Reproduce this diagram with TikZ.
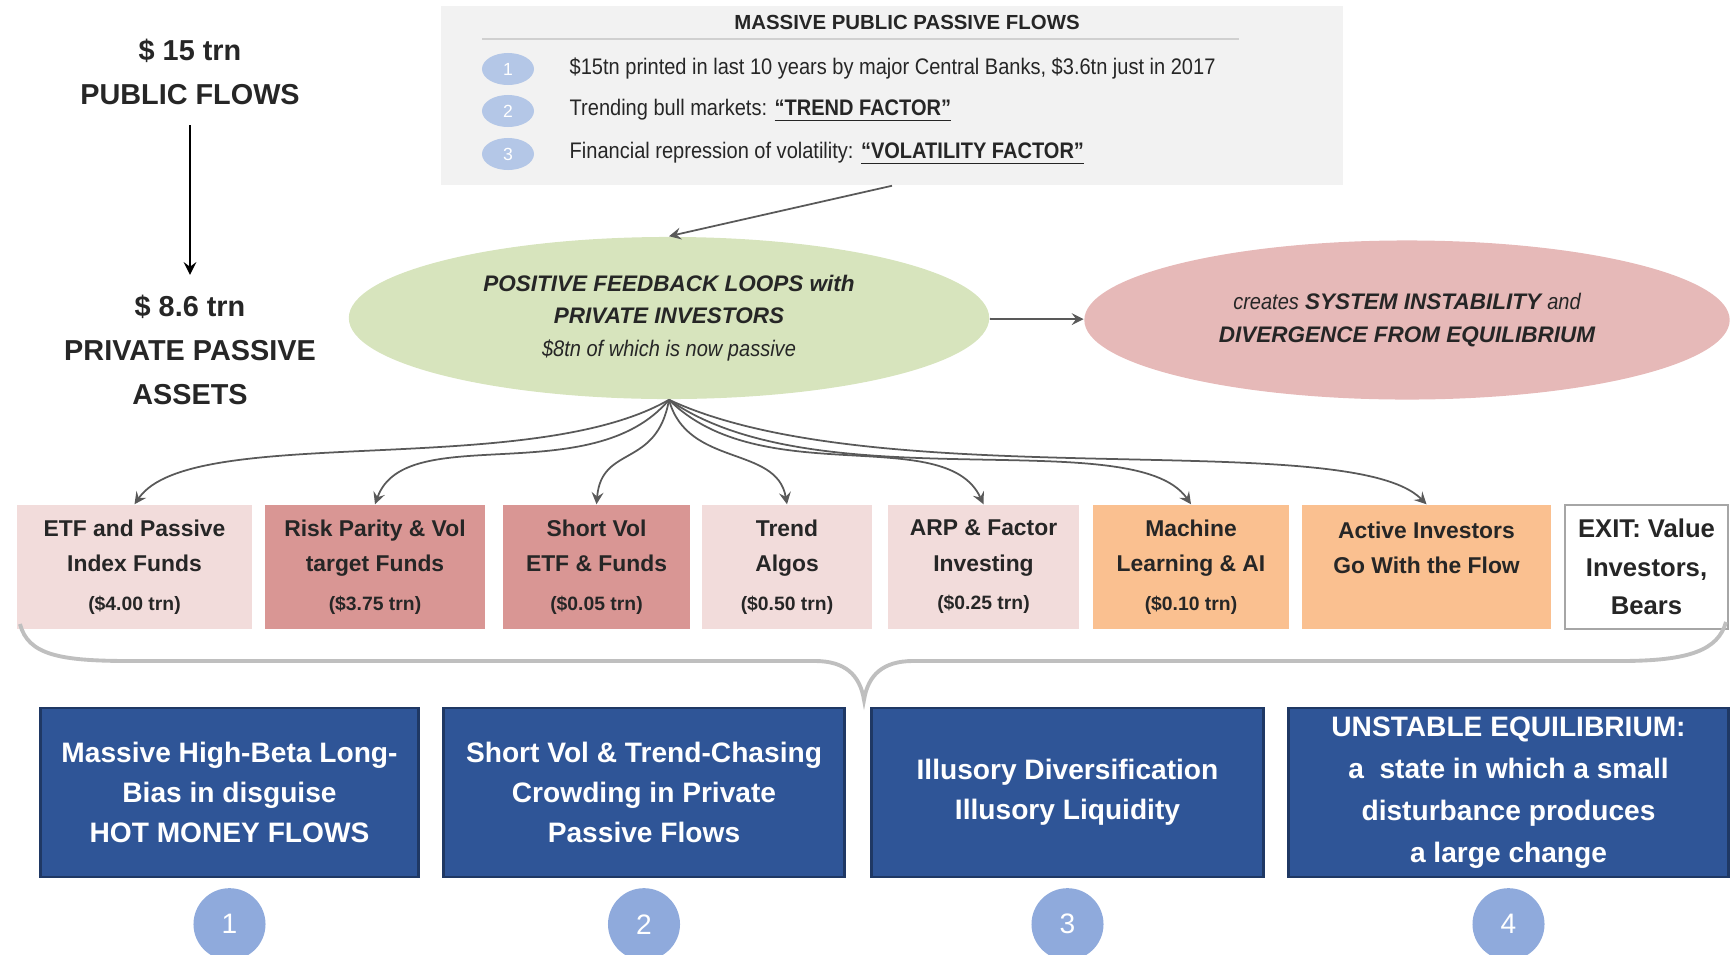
\documentclass[tikz,border=0pt]{standalone}
\usepackage{fontspec}
\setmainfont{Liberation Sans}
\newfontfamily\narrowfont{Liberation Sans}[FakeStretch=0.89]
\usepackage{tikz}
\usetikzlibrary{arrows,positioning,shapes.geometric}

\definecolor{textdark}{HTML}{262626}
\definecolor{boxgrey}{HTML}{F2F2F2}
\definecolor{rulegrey}{HTML}{D0D0D0}
\definecolor{dotblue}{HTML}{B4C7E7}
\definecolor{loopgreen}{HTML}{D7E4BD}
\definecolor{instabpink}{HTML}{E6B9B8}
\definecolor{pinklight}{HTML}{F2DCDB}
\definecolor{pinkdark}{HTML}{D99694}
\definecolor{orangefund}{HTML}{FAC090}
\definecolor{exitgrey}{HTML}{A6A6A6}
\definecolor{resblue}{HTML}{2F5597}
\definecolor{resborder}{HTML}{1F3864}
\definecolor{circblue}{HTML}{8FAADC}
\definecolor{arrowgrey}{HTML}{595959}
\definecolor{bracegrey}{HTML}{BFBFBF}

\newcommand{\amount}[1]{{\fontsize{5.5}{7}\selectfont(\$#1 trn)}}

\begin{document}
\begin{tikzpicture}[x=0.01cm, y=-0.01cm,
  greybox/.style={rectangle, fill=boxgrey, inner sep=0pt},
  numdot/.style={ellipse, fill=dotblue, minimum width=0.52cm, minimum height=0.32cm, inner sep=0pt, text=white, font=\fontsize{5}{6}\selectfont},
  flowline/.style={anchor=west, inner sep=0pt, text=textdark, font=\narrowfont\fontsize{6.4}{7.5}\selectfont},
  headline/.style={inner sep=0.2cm, align=center, text=textdark, font=\fontsize{8.2}{12.4}\bfseries\selectfont},
  loopoval/.style={ellipse, inner sep=0pt, align=center, text=textdark, font=\fontsize{6.4}{9.3}\bfseries\itshape\selectfont},
  fundbox/.style={rectangle, minimum height=1.24cm, inner sep=0pt, align=center, text=textdark, font=\fontsize{6.5}{10}\bfseries\selectfont},
  resultbox/.style={rectangle, minimum height=1.69cm, inner sep=0pt, align=center, fill=resblue, draw=resborder, line width=0.8pt, text=white, font=\fontsize{8}{11.4}\bfseries\selectfont},
  numcirc/.style={circle, minimum size=0.72cm, inner sep=0pt, fill=circblue, text=white, font=\fontsize{8}{9}\selectfont},
  fanarrow/.style={->, >=stealth, draw=arrowgrey, line width=0.5pt}]
\useasboundingbox (0,0) rectangle (1730,954);

% left column
\node[headline] (public) at (190,72) {\$ 15 trn\\PUBLIC FLOWS};
\node[headline] (private) at (190,350) {\$ 8.6 trn\\PRIVATE PASSIVE\\ASSETS};
\draw[->,>=stealth,line width=0.6pt] (public) -- (private);

% public flows box
\node[greybox, minimum width=9.02cm, minimum height=1.79cm] (flows) at (892,95.5) {};
\node[inner sep=0pt, text=textdark, font=\fontsize{5.8}{7}\bfseries\selectfont] (flowstitle) at (907,22) {MASSIVE PUBLIC PASSIVE FLOWS};
\draw[rulegrey, line width=0.4pt] (482,39) -- (1239,39);
\foreach \i/\y in {1/69, 2/111, 3/154}
  \node[numdot] (dot\i) at (508,\y) {\i};
\node[flowline] (line1) at (569,69) {\$15tn printed in last 10 years by major Central Banks, \$3.6tn just in 2017};
\node[flowline] (line2) at (569,111) {Trending bull markets: {\bfseries\underline{“TREND FACTOR”}}};
\node[flowline] (line3) at (569,154) {Financial repression of volatility: {\bfseries\underline{“VOLATILITY FACTOR”}}};

% feedback loops
\node[loopoval, fill=loopgreen, minimum width=6.4cm, minimum height=1.62cm] (loops) at (669,318)
{POSITIVE FEEDBACK LOOPS with\\PRIVATE INVESTORS\\{\mdseries\narrowfont \$8tn of which is now passive}};
\node[loopoval, fill=instabpink, minimum width=6.45cm, minimum height=1.59cm] (instab) at (1407,320)
{{\mdseries\narrowfont creates} SYSTEM INSTABILITY {\mdseries\narrowfont and}\\DIVERGENCE FROM EQUILIBRIUM};
\draw[fanarrow] (flows.south) -- (loops.north);
\draw[fanarrow] (loops) -- (instab);

% fund boxes
\node[fundbox, fill=pinklight, minimum width=2.35cm] (f1) at (134.5,567) {ETF and Passive\\Index Funds\\[1pt]\amount{4.00}};
\node[fundbox, fill=pinkdark, minimum width=2.20cm] (f2) at (375,567) {Risk Parity \& Vol\\target Funds\\[1pt]\amount{3.75}};
\node[fundbox, fill=pinkdark, minimum width=1.87cm] (f3) at (596.5,567) {Short Vol\\ETF \& Funds\\[1pt]\amount{0.05}};
\node[fundbox, fill=pinklight, minimum width=1.70cm] (f4) at (787,567) {Trend\\Algos\\[1pt]\amount{0.50}};
\node[fundbox, fill=pinklight, minimum width=1.91cm] (f5) at (983.5,567) {ARP \& Factor\\Investing\\[1pt]\amount{0.25}};
\node[fundbox, fill=orangefund, minimum width=1.96cm] (f6) at (1191,567) {Machine\\Learning \& AI\\[1pt]\amount{0.10}};
\node[fundbox, fill=orangefund, minimum width=2.49cm] (f7) at (1426.5,567) {Active Investors\\Go With the Flow\\[1pt]\mbox{}};
\node[fundbox, fill=white, draw=exitgrey, line width=0.8pt, minimum width=1.63cm, font=\fontsize{7.3}{11}\bfseries\selectfont] (f8) at (1646.5,567) {EXIT: Value\\Investors,\\Bears};

% fan of curved arrows
\foreach \f/\a/\d/\b/\e in {f1/-150/1.6/55/1.0, f2/-130/1.2/70/0.9, f3/-100/0.7/85/0.6,
    f4/-75/0.7/100/0.6, f5/-45/1.3/115/0.9, f6/-35/1.8/125/1.0, f7/-25/2.3/135/1.1}
  \draw[fanarrow] (loops.south) .. controls +(\a:\d cm) and +(\b:\e cm) .. (\f.north);

% brace under the funds
\draw[bracegrey, line width=1.1pt] (20,624) .. controls (28,655) and (60,661) .. (130,661)
  -- (815,661) .. controls (845,661) and (860,675) .. (864,700)
  .. controls (868,675) and (883,661) .. (913,661) -- (1620,661)
  .. controls (1690,661) and (1718,650) .. (1726,622);

% outcomes
\node[resultbox, minimum width=3.77cm] (r1) at (229.5,792.5) {Massive High-Beta Long-\\Bias in disguise\\HOT MONEY FLOWS};
\node[resultbox, minimum width=4.00cm] (r2) at (644,792.5) {Short Vol \& Trend-Chasing\\Crowding in Private\\Passive Flows};
\node[resultbox, minimum width=3.91cm] (r3) at (1067.5,792.5) {Illusory Diversification\\Illusory Liquidity};
\node[resultbox, minimum width=4.39cm, font=\fontsize{8}{12}\bfseries\selectfont] (r4) at (1508.5,792.5) {UNSTABLE EQUILIBRIUM:\\a\ \ state in which a small\\disturbance produces\\a large change};

\foreach \i in {1,...,4}
  \node[numcirc, below=0.09cm of r\i] (n\i) {\i};
\end{tikzpicture}
\end{document}
